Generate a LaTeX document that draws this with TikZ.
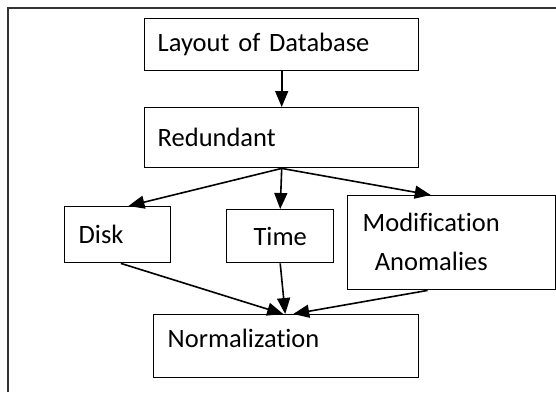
\documentclass[tikz,border=0pt]{standalone}
\usepackage{fontspec}
\setmainfont{Carlito}[RawFeature=-liga,WordSpace=0.75]
\usetikzlibrary{arrows.meta,calc}
\begin{document}
\begin{tikzpicture}[x=1pt,y=-1pt,
  box/.style={draw=black,line width=1.4pt,anchor=north west,inner ysep=0pt,
    font=\fontsize{26.5}{39}\selectfont,align=left},
  arr/.style={line width=1.6pt,-{Triangle[length=16pt,width=13pt]}}]
\useasboundingbox (0,0) rectangle (556,392);
\draw[line width=1.6pt,draw=black!80] (8,392) -- (8,8) -- (556,8);
\node[box,minimum width=274pt,minimum height=52pt,inner xsep=13pt,text width=248pt] (L) at (144,18) {Layout of Database};
\node[box,minimum width=274pt,minimum height=60pt,inner xsep=13pt,text width=248pt] (R) at (144,107) {Redundant};
\node[box,minimum width=106pt,minimum height=56pt,inner xsep=14pt,text width=78pt] (D) at (64,206) {Disk};
\node[box,minimum width=107pt,minimum height=53pt,inner xsep=0pt,text width=107pt,align=center] (T) at (226,209) {Time};
\node[box,minimum width=208pt,minimum height=94pt,inner xsep=15pt,text width=178pt] (M) at (347,195) {\begin{tabular}{@{}c@{}}Modification\\Anomalies\end{tabular}};
\node[box,minimum width=265pt,minimum height=63pt,inner xsep=14pt,text width=237pt,text depth=16pt] (N) at (153,314) {Normalization};
\draw[arr] (L.south) -- (R.north);
\draw[arr] (R.south) -- ($(D.north west)!0.6!(D.north east)$);
\draw[arr] (R.south) -- (T.north);
\draw[arr] (R.south) -- ($(M.north west)!0.4!(M.north east)$);
\draw[arr] ($(D.south west)!0.53!(D.south east)$) -- ($(N.north)+(-3,0)$);
\draw[arr] (T.south) -- ($(N.north)+(-1,0)$);
\draw[arr] ($(M.south west)!0.385!(M.south east)$) -- ($(N.north)+(7,0)$);
\end{tikzpicture}
\end{document}
